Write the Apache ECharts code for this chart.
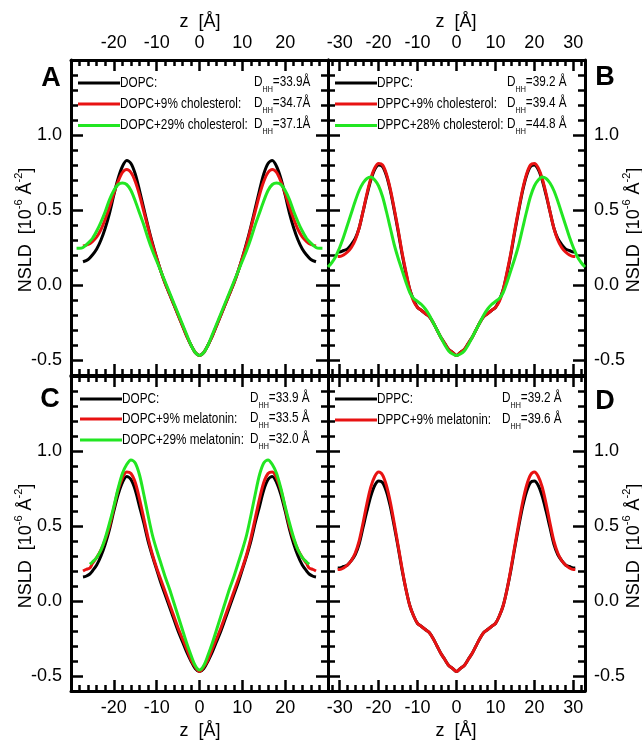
<!DOCTYPE html>
<html>
<head>
<meta charset="utf-8">
<script src="https://cdn.jsdelivr.net/npm/echarts@6/dist/echarts.min.js"></script>
<style>
  html, body { margin: 0; padding: 0; background: #fff; }
  #chart { width: 642px; height: 741px; }
</style>
</head>
<body>
<div id="chart"></div>
<script>
// ---------- Neutron scattering length density profiles, NSLD(z) [1e-6 Å^-2] ----------

// Panel A: DOPC with cholesterol
const zA = [-28.7,-28,-27.2,-26,-25,-24,-23,-22,-21,-20,-19,-18,-17,-16,-15,-14,-13,-12,-11,-10,-9,-8,-7,-6,-5,-4,-3,-2,-1,0,
  1,2,3,4,5,6,7,8,9,10,11,12,13,14,15,16,17,18,19,20,21,22,23,24,25,26,27.2,28,28.7];
const nsldA_DOPC = [null,null,0.155,0.17,0.20,0.24,0.30,0.38,0.48,0.60,0.71,0.79,0.83,0.81,0.74,0.63,0.51,0.39,0.28,0.18,0.09,0.01,-0.06,-0.13,-0.20,-0.27,-0.34,-0.40,-0.45,-0.47,
  -0.45,-0.40,-0.34,-0.27,-0.20,-0.13,-0.06,0.01,0.09,0.18,0.28,0.39,0.51,0.63,0.74,0.81,0.83,0.79,0.71,0.60,0.48,0.38,0.30,0.24,0.20,0.17,0.155,null,null];
const nsldA_Chol9 = [null,null,0.26,0.27,0.29,0.32,0.37,0.44,0.52,0.61,0.69,0.75,0.77,0.75,0.69,0.60,0.49,0.38,0.27,0.18,0.09,0.01,-0.06,-0.13,-0.20,-0.27,-0.34,-0.40,-0.45,-0.47,
  -0.45,-0.40,-0.34,-0.27,-0.20,-0.13,-0.06,0.01,0.09,0.18,0.27,0.38,0.49,0.60,0.69,0.75,0.77,0.75,0.69,0.61,0.52,0.44,0.37,0.32,0.29,0.27,0.26,null,null];
const nsldA_Chol29 = [0.245,0.245,0.25,0.28,0.31,0.36,0.42,0.49,0.57,0.63,0.67,0.68,0.67,0.63,0.56,0.48,0.40,0.31,0.23,0.16,0.09,0.02,-0.05,-0.12,-0.19,-0.26,-0.33,-0.40,-0.45,-0.47,
  -0.45,-0.40,-0.33,-0.26,-0.19,-0.12,-0.05,0.02,0.09,0.16,0.23,0.31,0.40,0.48,0.56,0.63,0.67,0.68,0.67,0.63,0.57,0.49,0.42,0.36,0.31,0.28,0.25,0.245,0.245];

// Panel B: DPPC with cholesterol
const zB = [-33,-32,-31,-30.5,-30,-29,-28,-27,-26,-25,-24,-23,-22,-21,-20,-19,-18,-17,-16,-15,-14,-13,-12,-11,-10,-9,-8,-7,-6,-5,-4,-3,-2,-1,0,
  1,2,3,4,5,6,7,8,9,10,11,12,13,14,15,16,17,18,19,20,21,22,23,24,25,26,27,28,29,30,30.5,31,32,33];
const nsldB_DPPC = [null,null,null,0.22,0.22,0.23,0.24,0.27,0.31,0.38,0.49,0.60,0.70,0.77,0.80,0.79,0.73,0.63,0.50,0.36,0.21,0.08,-0.03,-0.10,-0.15,-0.17,-0.19,-0.21,-0.25,-0.30,-0.35,-0.39,-0.43,-0.45,-0.47,
  -0.45,-0.43,-0.39,-0.35,-0.30,-0.25,-0.21,-0.19,-0.17,-0.15,-0.10,-0.03,0.08,0.21,0.36,0.50,0.63,0.73,0.79,0.80,0.77,0.70,0.60,0.49,0.38,0.31,0.27,0.24,0.23,0.22,0.22,null,null,null];
const nsldB_Chol9 = [null,null,null,0.19,0.19,0.20,0.22,0.25,0.30,0.38,0.49,0.61,0.71,0.78,0.81,0.80,0.74,0.64,0.51,0.37,0.22,0.09,-0.03,-0.11,-0.15,-0.17,-0.19,-0.21,-0.25,-0.30,-0.35,-0.39,-0.43,-0.45,-0.47,
  -0.45,-0.43,-0.39,-0.35,-0.30,-0.25,-0.21,-0.19,-0.17,-0.15,-0.11,-0.03,0.09,0.22,0.37,0.51,0.64,0.74,0.80,0.81,0.78,0.71,0.61,0.49,0.38,0.30,0.25,0.22,0.20,0.19,0.19,null,null,null];
const nsldB_Chol28 = [0.12,0.15,0.19,0.22,0.25,0.32,0.40,0.48,0.56,0.63,0.68,0.71,0.72,0.70,0.66,0.59,0.49,0.38,0.27,0.18,0.10,0.02,-0.05,-0.09,-0.11,-0.13,-0.16,-0.20,-0.25,-0.30,-0.35,-0.40,-0.44,-0.46,-0.47,
  -0.46,-0.44,-0.40,-0.35,-0.30,-0.25,-0.20,-0.16,-0.13,-0.11,-0.09,-0.05,0.02,0.10,0.18,0.27,0.38,0.49,0.59,0.66,0.70,0.72,0.71,0.68,0.63,0.56,0.48,0.40,0.32,0.25,0.22,0.19,0.15,0.12];

// Panel C: DOPC with melatonin
const zC = [-27.2,-26.5,-25.6,-25,-24,-23,-22,-21,-20,-19,-18,-17,-16,-15,-14,-13,-12,-11,-10,-9,-8,-7,-6,-5,-4,-3,-2,-1,0,
  1,2,3,4,5,6,7,8,9,10,11,12,13,14,15,16,17,18,19,20,21,22,23,24,25,25.6,26.5,27.2];
const nsldC_DOPC = [0.16,0.165,0.18,0.20,0.24,0.30,0.38,0.48,0.60,0.71,0.79,0.83,0.81,0.74,0.63,0.52,0.40,0.30,0.21,0.12,0.04,-0.04,-0.12,-0.20,-0.27,-0.34,-0.40,-0.45,-0.47,
  -0.45,-0.40,-0.34,-0.27,-0.20,-0.12,-0.04,0.04,0.12,0.21,0.30,0.40,0.52,0.63,0.74,0.81,0.83,0.79,0.71,0.60,0.48,0.38,0.30,0.24,0.20,0.18,0.165,0.16];
const nsldC_Mel9 = [0.20,0.21,0.22,0.25,0.29,0.34,0.41,0.50,0.62,0.74,0.82,0.86,0.85,0.79,0.68,0.55,0.42,0.31,0.22,0.14,0.06,-0.02,-0.10,-0.18,-0.25,-0.32,-0.39,-0.44,-0.47,
  -0.44,-0.39,-0.32,-0.25,-0.18,-0.10,-0.02,0.06,0.14,0.22,0.31,0.42,0.55,0.68,0.79,0.85,0.86,0.82,0.74,0.62,0.50,0.41,0.34,0.29,0.25,0.22,0.21,0.20];
const nsldC_Mel29 = [null,null,0.245,0.26,0.29,0.34,0.42,0.52,0.63,0.75,0.85,0.91,0.94,0.92,0.84,0.71,0.57,0.44,0.34,0.25,0.16,0.08,-0.01,-0.10,-0.19,-0.28,-0.36,-0.43,-0.46,
  -0.43,-0.36,-0.28,-0.19,-0.10,-0.01,0.08,0.16,0.25,0.34,0.44,0.57,0.71,0.84,0.92,0.94,0.91,0.85,0.75,0.63,0.52,0.42,0.34,0.29,0.26,0.245,null,null];

// Panel D: DPPC with melatonin
const zD = [-30.5,-30,-29,-28,-27,-26,-25,-24,-23,-22,-21,-20,-19,-18,-17,-16,-15,-14,-13,-12,-11,-10,-9,-8,-7,-6,-5,-4,-3,-2,-1,0,
  1,2,3,4,5,6,7,8,9,10,11,12,13,14,15,16,17,18,19,20,21,22,23,24,25,26,27,28,29,30,30.5];
const nsldD_DPPC = [0.22,0.22,0.23,0.24,0.27,0.31,0.38,0.49,0.60,0.70,0.77,0.80,0.79,0.73,0.63,0.50,0.36,0.21,0.08,-0.03,-0.10,-0.15,-0.17,-0.19,-0.21,-0.25,-0.30,-0.35,-0.39,-0.43,-0.45,-0.47,
  -0.45,-0.43,-0.39,-0.35,-0.30,-0.25,-0.21,-0.19,-0.17,-0.15,-0.10,-0.03,0.08,0.21,0.36,0.50,0.63,0.73,0.79,0.80,0.77,0.70,0.60,0.49,0.38,0.31,0.27,0.24,0.23,0.22,0.22];
const nsldD_Mel9 = [0.21,0.21,0.22,0.24,0.27,0.32,0.40,0.52,0.65,0.76,0.83,0.86,0.84,0.77,0.66,0.52,0.37,0.22,0.08,-0.03,-0.10,-0.15,-0.17,-0.19,-0.21,-0.25,-0.30,-0.35,-0.39,-0.43,-0.45,-0.47,
  -0.45,-0.43,-0.39,-0.35,-0.30,-0.25,-0.21,-0.19,-0.17,-0.15,-0.10,-0.03,0.08,0.22,0.37,0.52,0.66,0.77,0.84,0.86,0.83,0.76,0.65,0.52,0.40,0.32,0.27,0.24,0.22,0.21,0.21];

// Legend texts and head-group distances
const namesA = ['DOPC:', 'DOPC+9% cholesterol:', 'DOPC+29% cholesterol:'];
const dhhA = ['=33.9Å', '=34.7Å', '=37.1Å'];
const namesB = ['DPPC:', 'DPPC+9% cholesterol:', 'DPPC+28% cholesterol:'];
const dhhB = ['=39.2 Å', '=39.4 Å', '=44.8 Å'];
const namesC = ['DOPC:', 'DOPC+9% melatonin:', 'DOPC+29% melatonin:'];
const dhhC = ['=33.9 Å', '=33.5 Å', '=32.0 Å'];
const namesD = ['DPPC:', 'DPPC+9% melatonin:'];
const dhhD = ['=39.2 Å', '=39.6 Å'];

// Tick labels
const zTicksNarrow = [-20, -10, 0, 10, 20];
const zTicksWide = [-30, -20, -10, 0, 10, 20, 30];
const nsldTicks = [-0.5, 0.0, 0.5, 1.0];

const COLORS = ['#000000', '#e81212', '#22e622'];
const FONT = "'Liberation Sans', Arial, sans-serif";

// ---------- helpers ----------
function pairs(z, v) {
  const out = [];
  for (let i = 0; i < z.length; i++) if (v[i] !== null) out.push([z[i], v[i]]);
  return out;
}
// secondary tick positions between the labelled ones
function minorSteps(lo, hi, step, majorEvery) {
  const out = [];
  for (let k = Math.ceil(lo / step - 1e-9); k <= Math.floor(hi / step + 1e-9); k++) {
    if (k % majorEvery !== 0) out.push(Math.round(k * step * 1000) / 1000);
  }
  return out;
}

const grids = [
  { left: 71,  top: 60,  width: 257, height: 315 },
  { left: 328, top: 60,  width: 257, height: 315 },
  { left: 71,  top: 376, width: 257, height: 315 },
  { left: 328, top: 376, width: 257, height: 315 }
];

const xAxes = [];
const yAxes = [];
const Y_MIN = -0.6, Y_MAX = 1.5;
const yMinor = minorSteps(Y_MIN, Y_MAX, 0.1, 5);
const TICK = { color: '#000', width: 2.5 };

// an axis that only draws short ticks
function minorAxis(g, pos, range, values, len) {
  return {
    type: 'value', gridIndex: g, position: pos, min: range[0], max: range[1],
    axisLine: { show: false, onZero: false },
    axisTick: { show: true, inside: true, length: len, lineStyle: TICK, customValues: values },
    axisLabel: { show: false },
    splitLine: { show: false }
  };
}

function addAxes(g, xr, xMajor, xLabelSide, yLabelSide) {
  const xMinor = minorSteps(xr[0], xr[1], 2, 5);
  const first = xAxes.length;
  ['bottom', 'top'].forEach(pos => {
    xAxes.push({
      type: 'value', gridIndex: g, position: pos, min: xr[0], max: xr[1],
      axisLine: { show: true, onZero: false, lineStyle: { color: '#000', width: 3 } },
      axisTick: { show: true, inside: true, length: 11, lineStyle: TICK, customValues: xMajor },
      axisLabel: { show: pos === xLabelSide, customValues: xMajor, margin: 8, color: '#000', fontSize: 18, fontFamily: FONT },
      splitLine: { show: false }
    });
    xAxes.push(minorAxis(g, pos, xr, xMinor, 6));
  });
  ['left', 'right'].forEach(pos => {
    yAxes.push({
      type: 'value', gridIndex: g, position: pos, min: Y_MIN, max: Y_MAX,
      axisLine: { show: true, onZero: false, lineStyle: { color: '#000', width: 3 } },
      axisTick: { show: true, inside: true, length: 12, lineStyle: TICK, customValues: nsldTicks },
      axisLabel: { show: pos === yLabelSide, customValues: nsldTicks, margin: 9, color: '#000', fontSize: 18, fontFamily: FONT,
                   formatter: v => Number(v).toFixed(1) },
      splitLine: { show: false }
    });
    yAxes.push(minorAxis(g, pos, [Y_MIN, Y_MAX], yMinor, 7));
  });
  return first;
}

const axA = addAxes(0, [-30, 30], zTicksNarrow, 'top', 'left');
const axB = addAxes(1, [-33, 33], zTicksWide, 'top', 'right');
const axC = addAxes(2, [-30, 30], zTicksNarrow, 'bottom', 'left');
const axD = addAxes(3, [-33, 33], zTicksWide, 'bottom', 'right');

function curve(name, ax, z, v, color) {
  return {
    type: 'line', name: name, xAxisIndex: ax, yAxisIndex: ax,
    data: pairs(z, v), showSymbol: false, symbol: 'none', smooth: 0.3,
    lineStyle: { color: color, width: 3 }, itemStyle: { color: color },
    silent: true, clip: true
  };
}

const series = [
  curve('DOPC', axA, zA, nsldA_DOPC, COLORS[0]),
  curve('DOPC+9% cholesterol', axA, zA, nsldA_Chol9, COLORS[1]),
  curve('DOPC+29% cholesterol', axA, zA, nsldA_Chol29, COLORS[2]),
  curve('DPPC', axB, zB, nsldB_DPPC, COLORS[0]),
  curve('DPPC+9% cholesterol', axB, zB, nsldB_Chol9, COLORS[1]),
  curve('DPPC+28% cholesterol', axB, zB, nsldB_Chol28, COLORS[2]),
  curve('DOPC ', axC, zC, nsldC_DOPC, COLORS[0]),
  curve('DOPC+9% melatonin', axC, zC, nsldC_Mel9, COLORS[1]),
  curve('DOPC+29% melatonin', axC, zC, nsldC_Mel29, COLORS[2]),
  curve('DPPC ', axD, zD, nsldD_DPPC, COLORS[0]),
  curve('DPPC+9% melatonin', axD, zD, nsldD_Mel9, COLORS[1])
];

// ---------- annotations: axis titles, panel letters, in-panel keys ----------
const graphic = [];

// z axis titles above the top panels and below the bottom panels
[[200, 22], [456, 22], [200, 731], [456, 731]].forEach(([x, y]) => {
  graphic.push({ type: 'text', x: x, y: y, silent: true,
    style: { text: 'z  [Å]', fill: '#000', font: '18px ' + FONT, align: 'center', verticalAlign: 'middle' } });
});

[['A', 51, 79], ['B', 605, 78], ['C', 50, 400], ['D', 605, 402]].forEach(([t, x, y]) => {
  graphic.push({ type: 'text', x: x, y: y, silent: true,
    style: { text: t, fill: '#000', font: 'bold 27px ' + FONT, align: 'center', verticalAlign: 'middle' } });
});

const nsldRich = {
  n: { fontSize: 18, fontFamily: FONT, fill: '#000', lineHeight: 22, verticalAlign: 'bottom' },
  p: { fontSize: 11, fontFamily: FONT, fill: '#000', lineHeight: 11, padding: [0, 0, 11, 0], verticalAlign: 'bottom' }
};
[[24, 230], [632, 230], [24, 546], [632, 546]].forEach(([x, y]) => {
  graphic.push({ type: 'text', x: x, y: y, rotation: Math.PI / 2, silent: true,
    style: { text: '{n|NSLD  [10}{p|-6}{n| Å}{p|-2}{n|]}', rich: nsldRich, align: 'center', verticalAlign: 'middle' } });
});

const keyRich = {
  d: { fontSize: 14, fontFamily: FONT, fill: '#000', lineHeight: 16, verticalAlign: 'top' },
  s: { fontSize: 8.5, fontFamily: FONT, fill: '#000', lineHeight: 9, padding: [10, 0, 0, 0], verticalAlign: 'top' }
};
function key(x0, x1, xD, rows, names, dhh) {
  names.forEach((nm, i) => {
    const y = rows[i];
    graphic.push({ type: 'line', silent: true,
      shape: { x1: x0, y1: y, x2: x1, y2: y }, style: { stroke: COLORS[i], lineWidth: 3 } });
    graphic.push({ type: 'text', x: x1, y: y, scaleX: 0.84, silent: true,
      style: { text: nm, fill: '#000', font: '14px ' + FONT, align: 'left', verticalAlign: 'middle' } });
    graphic.push({ type: 'text', x: xD, y: y - 8, scaleX: 0.84, silent: true,
      style: { text: '{d|D}{s|HH}{d|' + dhh[i] + '}', rich: keyRich, align: 'left', verticalAlign: 'top' } });
  });
}
key(78, 120, 254, [83, 104, 125.5], namesA, dhhA);
key(335, 377, 507, [83, 104, 125.5], namesB, dhhB);
key(80, 122, 250, [399, 419, 440], namesC, dhhC);
key(335, 377, 502, [399, 420], namesD, dhhD);

const chart = echarts.init(document.getElementById('chart'), null, { renderer: 'canvas' });
chart.setOption({
  animation: false,
  backgroundColor: '#ffffff',
  grid: grids,
  xAxis: xAxes,
  yAxis: yAxes,
  series: series,
  graphic: graphic
});
</script>
</body>
</html>
